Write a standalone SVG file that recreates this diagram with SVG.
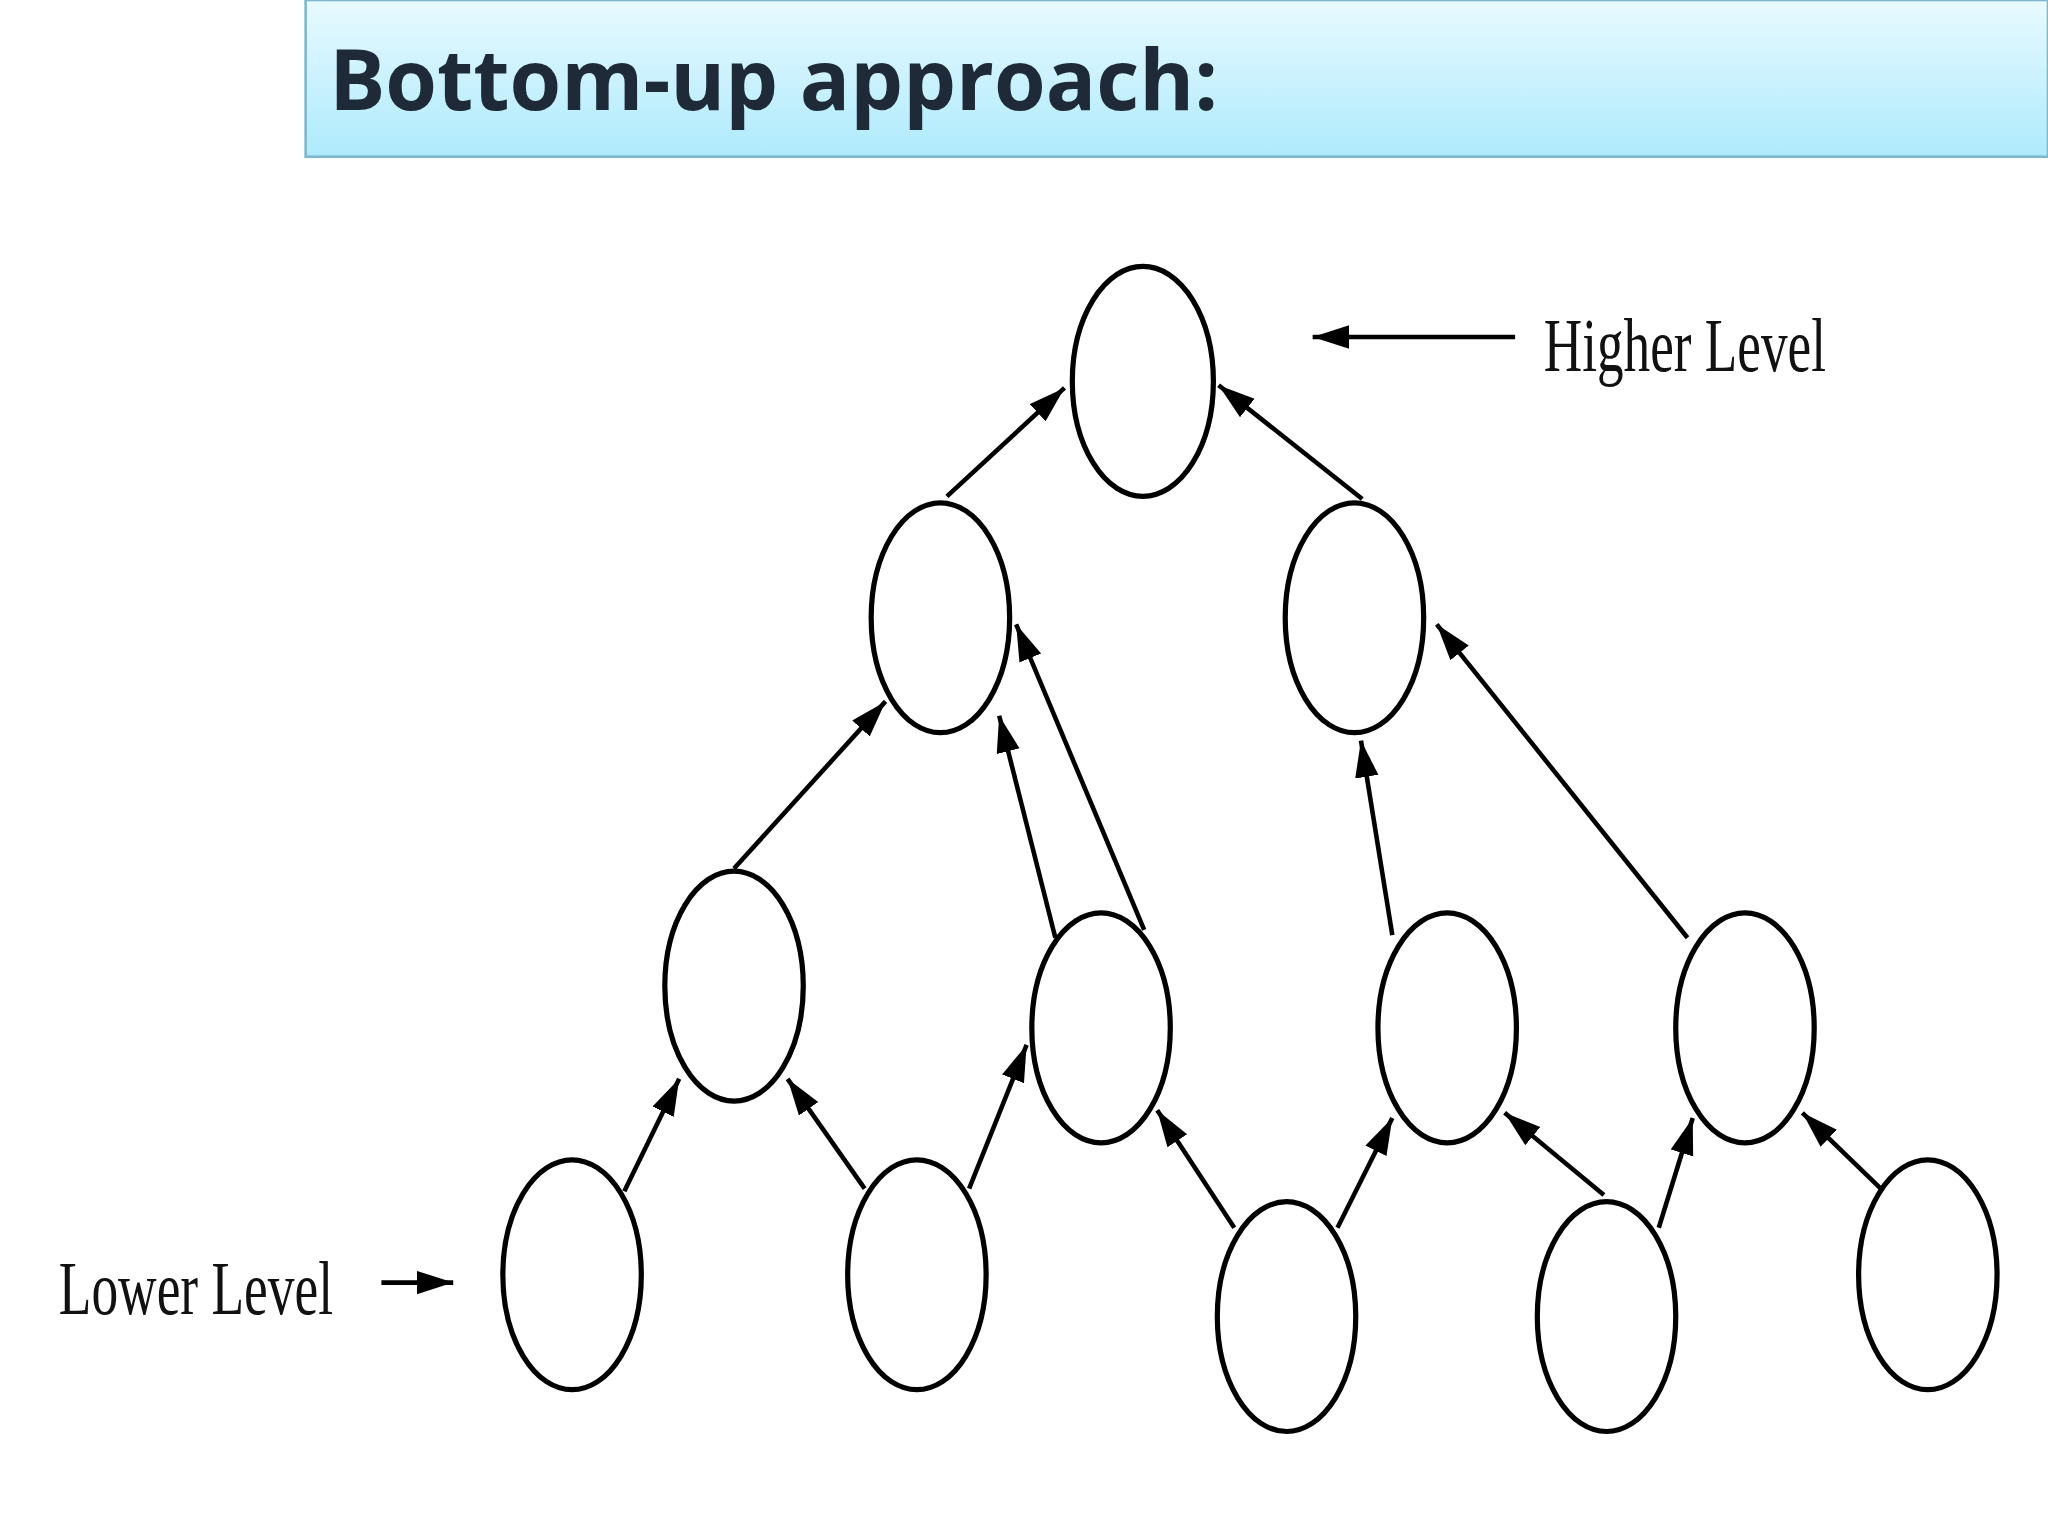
<svg xmlns="http://www.w3.org/2000/svg" width="2048" height="1536" viewBox="0 0 2048 1536">
<defs>
<linearGradient id="tg" x1="0" y1="0" x2="0" y2="1"><stop offset="0" stop-color="#e8faff"/><stop offset="1" stop-color="#aeeafc"/></linearGradient>
<marker id="ah" markerUnits="userSpaceOnUse" markerWidth="30" markerHeight="20" refX="28" refY="9" orient="auto"><path d="M0,0 L28,9 L0,18 Z" fill="#000"/></marker>
</defs>
<style>
.n ellipse{fill:#fff;stroke:#000;stroke-width:4}
.c line{stroke:#000;stroke-width:3.5;marker-end:url(#ah)}
.lbl{font-family:"Liberation Serif",serif;font-size:58px;fill:#111}
</style>
<rect width="2048" height="1536" fill="#fff"/>
<g transform="scale(1.30612)">
<g id="title">
<rect x="234" y="0" width="1334" height="120" fill="url(#tg)" stroke="#7fb8cc" stroke-width="2"/>
<text x="252" y="84" font-family="'Open Sans',sans-serif" font-weight="bold" font-size="64" fill="#1f2a38">Bottom-up approach:</text>
</g>
<g class="c" id="connectors">
<line x1="725" y1="380" x2="815" y2="297"/>
<line x1="1043" y1="382" x2="933" y2="295"/>
<line x1="562" y1="665" x2="678" y2="537"/>
<line x1="808" y1="718" x2="765" y2="548"/>
<line x1="876" y1="712" x2="778" y2="478"/>
<line x1="1066" y1="716" x2="1042" y2="567"/>
<line x1="1292" y1="718" x2="1100" y2="478"/>
<line x1="478" y1="912" x2="520" y2="826"/>
<line x1="662" y1="910" x2="603" y2="826"/>
<line x1="742" y1="910" x2="786" y2="800"/>
<line x1="945" y1="940" x2="886" y2="850"/>
<line x1="1024" y1="940" x2="1066" y2="856"/>
<line x1="1228" y1="915" x2="1152" y2="852"/>
<line x1="1270" y1="940" x2="1296" y2="856"/>
<line x1="1440" y1="910" x2="1380" y2="852"/>
<line x1="1160" y1="258" x2="1005" y2="258"/>
<line x1="292" y1="982" x2="347" y2="982"/>
</g>
<g class="n">
<g id="root"><ellipse cx="875" cy="292" rx="54" ry="88"/></g>
<g id="n2a"><ellipse cx="720" cy="473" rx="53" ry="88"/></g>
<g id="n2b"><ellipse cx="1037" cy="473" rx="53" ry="88"/></g>
<g id="n3a"><ellipse cx="562" cy="755" rx="53" ry="88"/></g>
<g id="n3b"><ellipse cx="843" cy="787" rx="53" ry="88"/></g>
<g id="n3c"><ellipse cx="1108" cy="787" rx="53" ry="88"/></g>
<g id="n3d"><ellipse cx="1336" cy="787" rx="53" ry="88"/></g>
<g id="n4a"><ellipse cx="438" cy="976" rx="53" ry="88"/></g>
<g id="n4b"><ellipse cx="702" cy="976" rx="53" ry="88"/></g>
<g id="n4c"><ellipse cx="985" cy="1008" rx="53" ry="88"/></g>
<g id="n4d"><ellipse cx="1230" cy="1008" rx="53" ry="88"/></g>
<g id="n4e"><ellipse cx="1476" cy="976" rx="53" ry="88"/></g>
</g>
<g id="labels">
<text class="lbl" x="1182" y="284" textLength="216" lengthAdjust="spacingAndGlyphs">Higher Level</text>
<text class="lbl" x="45" y="1006" textLength="210" lengthAdjust="spacingAndGlyphs">Lower Level</text>
</g>
</g>
</svg>
